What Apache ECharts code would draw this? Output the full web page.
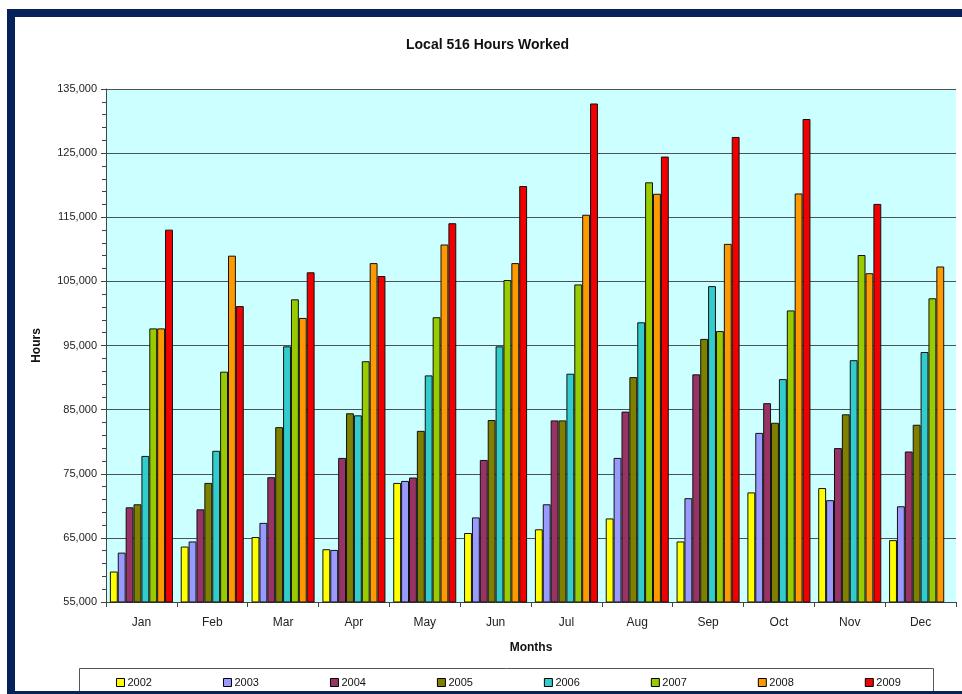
<!DOCTYPE html>
<html><head><meta charset="utf-8">
<script src="https://cdn.jsdelivr.net/npm/echarts@6/dist/echarts.min.js"></script>
<style>html,body{margin:0;padding:0;background:#fff}#c{width:962px;height:694px}</style>
</head><body><div id="c"></div>
<script>
const months = ['Jan','Feb','Mar','Apr','May','Jun','Jul','Aug','Sep','Oct','Nov','Dec'];
const years = ['2002','2003','2004','2005','2006','2007','2008','2009'];
const y2002 = [59750, 63650, 65130, 63230, 73570, 65760, 66340, 68030, 64440, 72090, 72770, 64650];
const y2003 = [62700, 64440, 67340, 63120, 73880, 68190, 70240, 77470, 71190, 81370, 70880, 69930];
const y2004 = [69770, 69450, 74460, 77470, 74410, 77150, 83320, 84690, 90500, 86010, 79000, 78470];
const y2005 = [70240, 73570, 82270, 84430, 81690, 83380, 83320, 90070, 96030, 82950, 84270, 82640];
const y2006 = [77780, 78580, 94870, 84110, 90340, 94870, 90600, 98620, 104260, 89760, 92710, 93980];
const y2007 = [97670, 90920, 102200, 92550, 99410, 105210, 104520, 120450, 97250, 100470, 109110, 102360];
const y2008 = [97670, 109010, 99300, 107850, 110750, 107850, 115390, 118660, 110850, 118710, 106270, 107320];
const y2009 = [113070, 101150, 106420, 105840, 114070, 119870, 132740, 124460, 127520, 130320, 117080, null];
const seriesValues = [y2002, y2003, y2004, y2005, y2006, y2007, y2008, y2009];
const colors = ['#FFFF00','#9999FF','#993366','#808000','#33CCCC','#99CC00','#FF9900','#F00000'];
const yMin = 55000, yMax = 135000, yStep = 10000;

const FONT = 'Arial, "Liberation Sans", sans-serif';
const chart = echarts.init(document.getElementById('c'), null, {renderer:'canvas'});
const navy = '#05235A';
chart.setOption({
  animation: false,
  textStyle: {fontFamily: FONT},
  title: {
    text: 'Local 516 Hours Worked', left: 401, top: 33,
    textStyle: {fontFamily: FONT, fontSize: 14, fontWeight: 'bold', color: '#111'}
  },
  grid: {left: 106, right: 6, top: 89, bottom: 92, show: true, backgroundColor: '#CCFFFF', borderWidth: 0},
  legend: {
    left: 111, top: 672, itemWidth: 8, itemHeight: 8, itemGap: 71,
    icon: 'rect',
    textStyle: {fontFamily: FONT, fontSize: 11, color: '#111', padding: [0,0,0,-2]},
    itemStyle: {borderColor: '#000', borderWidth: 1},
    data: years
  },
  xAxis: {
    type: 'category', data: months,
    name: 'Months', nameLocation: 'middle', nameGap: 40,
    nameTextStyle: {fontFamily: FONT, fontSize: 12, fontWeight: 'bold', color: '#111'},
    axisLine: {lineStyle: {color: '#444', width: 1}},
    axisTick: {show: true, length: 5, lineStyle: {color: '#444'}},
    axisLabel: {fontFamily: FONT, fontSize: 12, color: '#222', margin: 15},
    splitLine: {show: false}
  },
  yAxis: {
    type: 'value', min: yMin, max: yMax, interval: yStep,
    name: 'Hours', nameLocation: 'middle', nameGap: 63, nameRotate: 90,
    nameTextStyle: {fontFamily: FONT, fontSize: 12, fontWeight: 'bold', color: '#111'},
    axisLine: {show: true, lineStyle: {color: '#444', width: 1}},
    axisTick: {show: true, length: 5, lineStyle: {color: '#444'}},
    minorTick: {show: true, splitNumber: 5, length: 4, lineStyle: {color: '#444'}},
    axisLabel: {fontFamily: FONT, fontSize: 11, color: '#222', margin: 9,
      formatter: v => v.toLocaleString('en-US')},
    splitLine: {show: true, lineStyle: {color: '#505050', width: 1}}
  },
  graphic: [
    {type: 'rect', shape: {x: 7, y: 9, width: 955, height: 8}, style: {fill: navy}, z: 100},
    {type: 'rect', shape: {x: 7, y: 9, width: 8, height: 685}, style: {fill: navy}, z: 100},
    {type: 'rect', shape: {x: 7, y: 691, width: 955, height: 3}, style: {fill: navy}, z: 100},
    {type: 'rect', shape: {x: 79.5, y: 668.5, width: 854, height: 23}, style: {fill: 'none', stroke: '#555', lineWidth: 1}, z: 50}
  ],
  series: years.map((y, i) => ({
    name: y, type: 'bar', data: seriesValues[i],
    barGap: '0%', barCategoryGap: '11%',
    itemStyle: {color: colors[i], borderColor: '#111', borderWidth: 1}
  }))
});
</script></body></html>
